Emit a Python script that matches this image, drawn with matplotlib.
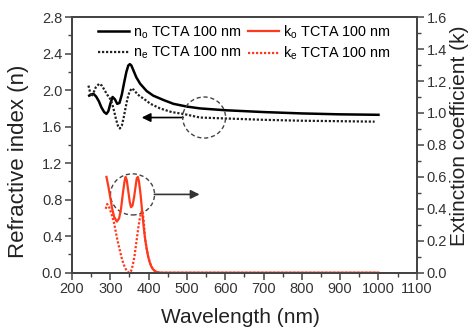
import matplotlib
matplotlib.use("Agg")
import matplotlib.pyplot as plt
from matplotlib.patches import Ellipse
from matplotlib.ticker import MultipleLocator, FormatStrFormatter

plt.rcParams['font.family'] = ['Liberation Sans', 'DejaVu Sans']
plt.rcParams['mathtext.fontset'] = 'custom'
plt.rcParams['mathtext.rm'] = 'Liberation Sans'

# n_o (solid black)
wl_no = [245, 250, 256, 263, 270, 277, 284, 290, 295, 300, 306, 312, 318, 324, 330, 336,
         342, 347, 351, 355, 360, 368, 378, 395, 412, 440, 465, 500, 534, 600, 700, 800, 900, 1000]
n_o = [1.94, 1.95, 1.96, 1.93, 1.88, 1.81, 1.76, 1.74, 1.77, 1.85, 1.925, 1.90, 1.85, 1.86, 1.95, 2.08,
       2.20, 2.27, 2.285, 2.27, 2.22, 2.14, 2.07, 1.99, 1.94, 1.89, 1.85, 1.82, 1.80, 1.78, 1.76, 1.745, 1.735, 1.73]

# n_e (dotted black)
wl_ne = [243, 247, 251, 256, 262, 271, 278, 285, 292, 299, 305, 310, 315, 320, 325, 330, 335, 340,
         345, 350, 356, 362, 370, 378, 386, 405, 430, 460, 490, 534, 600, 700, 800, 900, 990]
n_e = [2.05, 1.98, 1.93, 1.97, 2.03, 2.07, 2.05, 2.00, 1.95, 1.91, 1.85, 1.77, 1.68, 1.61, 1.58, 1.61, 1.70, 1.81,
       1.91, 1.98, 2.02, 2.00, 1.96, 1.93, 1.91, 1.85, 1.80, 1.76, 1.74, 1.70, 1.69, 1.675, 1.665, 1.66, 1.655]

# k_o (solid red, right axis)
wl_ko = [290, 295, 300, 305, 310, 317, 323, 328, 333, 337, 340, 343, 347, 351, 354, 358, 362,
         366, 369, 372, 375, 379, 383, 387, 391, 395, 399, 403, 407, 412, 418, 425, 435, 500, 700, 1000]
k_o = [0.60, 0.54, 0.47, 0.40, 0.35, 0.32, 0.34, 0.40, 0.50, 0.57, 0.60, 0.58, 0.51, 0.44, 0.41, 0.42, 0.47,
       0.54, 0.59, 0.60, 0.57, 0.49, 0.39, 0.29, 0.21, 0.15, 0.10, 0.065, 0.04, 0.02, 0.008, 0.002, 0.0, 0.0, 0.0, 0.0]

# k_e (dotted red, right axis)
wl_ke = [288, 292, 297, 303, 309, 314, 319, 325, 331, 337, 342, 346, 350, 354, 358, 363, 368,
         373, 377, 381, 384, 387, 391, 395, 399, 403, 407, 412, 418, 425, 435, 500, 700, 1000]
k_e = [0.40, 0.43, 0.41, 0.37, 0.32, 0.26, 0.20, 0.14, 0.08, 0.04, 0.015, 0.004, 0.0, 0.01, 0.04, 0.10, 0.19,
       0.28, 0.34, 0.38, 0.39, 0.33, 0.21, 0.15, 0.10, 0.065, 0.04, 0.02, 0.008, 0.002, 0.0, 0.0, 0.0, 0.0]

red = '#ff3a1c'
gray = '#444444'

fig = plt.figure(figsize=(4.72, 3.29), dpi=100)
ax = fig.add_axes([0.1525, 0.171, 0.7305, 0.777])
ax2 = ax.twinx()

h1, = ax.plot(wl_no, n_o, color='black', lw=1.8, label=r'n$_\mathregular{o}$ TCTA 100 nm')
h2, = ax.plot(wl_ne, n_e, color='#222222', lw=1.6, ls=(0, (1, 0.8)), label=r'n$_\mathregular{e}$ TCTA 100 nm')
h3, = ax2.plot(wl_ko, k_o, color=red, lw=1.6, label=r'k$_\mathregular{o}$ TCTA 100 nm')
h4, = ax2.plot(wl_ke, k_e, color=red, lw=1.6, ls=(0, (1, 0.8)), label=r'k$_\mathregular{e}$ TCTA 100 nm')

ax.set_xlim(200, 1100)
ax.set_ylim(0, 2.8)
ax2.set_ylim(0, 1.6)
ax.xaxis.set_major_locator(MultipleLocator(100))
ax.xaxis.set_minor_locator(MultipleLocator(50))
ax.yaxis.set_major_locator(MultipleLocator(0.4))
ax.yaxis.set_minor_locator(MultipleLocator(0.2))
ax2.yaxis.set_major_locator(MultipleLocator(0.2))
ax2.yaxis.set_minor_locator(MultipleLocator(0.1))
ax.yaxis.set_major_formatter(FormatStrFormatter('%.1f'))
ax2.yaxis.set_major_formatter(FormatStrFormatter('%.1f'))

for a in (ax, ax2):
    for s in a.spines.values():
        s.set_color(gray)
        s.set_linewidth(1.3)
    a.tick_params(which='major', length=5, width=1.1, color=gray, labelsize=10.5, labelcolor='#333333', pad=2)
    a.tick_params(which='minor', length=3, width=1.0, color=gray)

ax.set_xlabel('Wavelength (nm)', fontsize=15, color='#222222')
ax.set_ylabel('Refractive index (n)', fontsize=16, color='#222222')
ax2.set_ylabel('Extinction coefficient (k)', fontsize=15, color='#222222')
for lab in (ax.xaxis.label, ax.yaxis.label, ax2.yaxis.label):
    lab.set_va('center')
    lab.set_ha('center')
ax.xaxis.set_label_coords(0.49, -0.175)
ax.yaxis.set_label_coords(-0.155, 0.435)
ax2.yaxis.set_label_coords(1.125, 0.535)

# annotation circles and arrows
ax.add_patch(Ellipse((545, 1.70), 112, 0.45, fill=False, ls=(0, (3, 2)), lw=1.0, edgecolor=gray, zorder=5))
ax.annotate('', xy=(382, 1.70), xytext=(490, 1.70),
            arrowprops=dict(arrowstyle='-|>', color='black', lw=1.2, mutation_scale=13, shrinkA=0, shrinkB=0))
ax.add_patch(Ellipse((358, 0.858), 115, 0.45, fill=False, ls=(0, (3, 2)), lw=1.0, edgecolor=gray, zorder=5))
ax.annotate('', xy=(533, 0.858), xytext=(415, 0.858),
            arrowprops=dict(arrowstyle='-|>', color='#333333', lw=1.2, mutation_scale=13, shrinkA=0, shrinkB=0))

ax.legend(handles=[h1, h2, h3, h4], ncol=2, loc='upper center', frameon=False, fontsize=10.4,
          handlelength=2.15, columnspacing=0.4, handletextpad=0.3, labelspacing=0.3,
          bbox_to_anchor=(0.5, 1.01), borderaxespad=0.2)

fig.savefig('out.png', dpi=100)
